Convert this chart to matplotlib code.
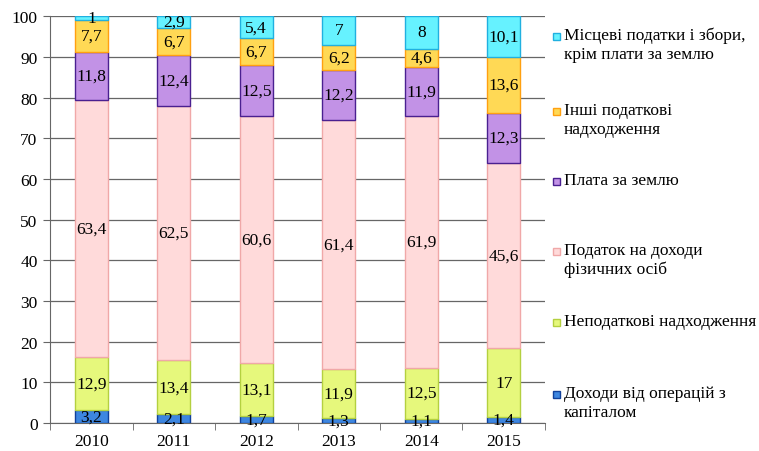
import numpy as np
import matplotlib
matplotlib.use("Agg")
import matplotlib.pyplot as plt
from matplotlib.patches import Rectangle

plt.rcParams["font.family"] = ["Liberation Serif", "DejaVu Serif"]

years = ["2010", "2011", "2012", "2013", "2014", "2015"]
series = [
    "Доходи від операцій з\nкапіталом",
    "Неподаткові надходження",
    "Податок на доходи\nфізичних осіб",
    "Плата за землю",
    "Інші податкові\nнадходження",
    "Місцеві податки і збори,\nкрім плати за землю",
]
capital = [3.2, 2.1, 1.7, 1.3, 1.1, 1.4]
nontax = [12.9, 13.4, 13.1, 11.9, 12.5, 17]
pit = [63.4, 62.5, 60.6, 61.4, 61.9, 45.6]
land = [11.8, 12.4, 12.5, 12.2, 11.9, 12.3]
other = [7.7, 6.7, 6.7, 6.2, 4.6, 13.6]
local = [1, 2.9, 5.4, 7, 8, 10.1]
values = [capital, nontax, pit, land, other, local]

fills = ["#3d86e0", "#e6f87c", "#ffdada", "#c292e6", "#ffd955", "#66f2ff"]
edges = ["#10409a", "#b4d040", "#f0a8a8", "#4a2090", "#ffa010", "#20b0e0"]

fig = plt.figure(figsize=(7.59, 4.52), dpi=100)
ax = fig.add_axes([0.066, 0.062, 0.652, 0.9])

x = np.arange(len(years))
bottom = np.zeros(len(years))
for vals, fc, ec in zip(values, fills, edges):
    vals = np.array(vals, dtype=float)
    ax.bar(x, vals, 0.4, bottom=bottom, color=fc, edgecolor=ec, lw=1.0, zorder=3)
    for xi, b, v in zip(x, bottom, vals):
        ax.text(xi, b + v / 2, f"{v:g}".replace(".", ","), ha="center", va="center",
                fontsize=12.5, zorder=4)
    bottom += vals

ax.set_xlim(-0.5, len(years) - 0.5)
ax.set_ylim(0, 100)
ax.set_yticks(np.arange(0, 101, 10))
ax.yaxis.grid(True, color="#666666", lw=0.9, zorder=0)
ax.set_axisbelow(True)
ax.set_xticks(x)
ax.set_xticklabels(years)
ax.set_xticks(np.arange(-0.5, len(years)), minor=True)
ax.tick_params(axis="x", which="major", length=0, pad=7, labelsize=12.5)
ax.tick_params(axis="x", which="minor", length=5, color="#666666")
ax.tick_params(axis="y", length=5, color="#666666", labelsize=12.5, pad=4)
for s in ["top", "right"]:
    ax.spines[s].set_visible(False)
for s in ["left", "bottom"]:
    ax.spines[s].set_color("#666666")

# legend, top entry first
leg_y = [0.918, 0.752, 0.597, 0.442, 0.285, 0.126]
for (lab, fc, ec), yy in zip(list(zip(series, fills, edges))[::-1], leg_y):
    fig.patches.append(Rectangle((0.729, yy - 0.008), 0.009, 0.015, transform=fig.transFigure,
                                 facecolor=fc, edgecolor=ec, lw=1))
    fig.text(0.743, yy + 0.021, lab, ha="left", va="top", fontsize=12.5,
             linespacing=1.25, transform=fig.transFigure)

fig.savefig("out.png", dpi=100)
